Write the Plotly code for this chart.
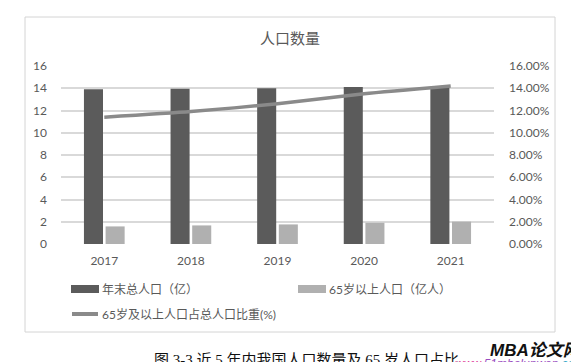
import plotly.graph_objects as go

years = ["2017", "2018", "2019", "2020", "2021"]
total_pop = [13.90, 13.95, 14.00, 14.12, 14.13]
pop_65 = [1.58, 1.67, 1.76, 1.91, 2.01]
ratio_65 = [0.114, 0.119, 0.126, 0.135, 0.142]

name_total = "年末总人口（亿）"
name_65 = "65岁以上人口（亿人）"
name_ratio = "65岁及以上人口占总人口比重(%)"
chart_title = "人口数量"
caption = "图 3-3 近 5 年内我国人口数量及 65 岁人口占比"

W, H = 579, 362
L, R, T, B = 53, 486, 58, 236  # plot area in pixels

def px(x):
    return (x - L) / (R - L)

def py(y):
    return (B - y) / (B - T)

GRAY = "#595959"
FONT = "Lato, Noto Sans CJK SC, sans-serif"

fig = go.Figure()
fig.add_trace(go.Bar(x=years, y=total_pop, name=name_total, marker_color="#5b5b5b", marker_line_width=0))
fig.add_trace(go.Bar(x=years, y=pop_65, name=name_65, marker_color="#b0b0b0", marker_line_width=0))
fig.add_trace(go.Scatter(x=years, y=ratio_65, name=name_ratio, yaxis="y2", mode="lines",
                         line=dict(color="#8a8a8a", width=3.5, shape="spline", smoothing=0.6)))

shapes = []
annotations = []

# chart border
shapes.append(dict(type="rect", xref="paper", yref="paper", x0=px(17), x1=px(547), y0=py(324), y1=py(9),
                   line=dict(color="#d4d4d4", width=1), fillcolor="rgba(0,0,0,0)", layer="below"))

# custom legend
leg_font = dict(family=FONT, size=12, color=GRAY)
legend_items = [
    (name_total, "bar", "#5b5b5b", 63, 281),
    (name_65, "bar", "#b0b0b0", 290, 281),
    (name_ratio, "line", "#8a8a8a", 63, 306),
]
for text, kind, color, x0, yc in legend_items:
    if kind == "bar":
        shapes.append(dict(type="rect", xref="paper", yref="paper", x0=px(x0), x1=px(x0 + 28),
                           y0=py(yc + 4), y1=py(yc - 4), fillcolor=color, line=dict(width=0)))
    else:
        shapes.append(dict(type="line", xref="paper", yref="paper", x0=px(x0 + 1), x1=px(x0 + 27),
                           y0=py(yc), y1=py(yc), line=dict(color=color, width=4)))
    annotations.append(dict(text=text, xref="paper", yref="paper", x=px(x0 + 29), y=py(yc),
                            xanchor="left", yanchor="middle", showarrow=False, font=leg_font))

# title
annotations.append(dict(text=chart_title, xref="paper", yref="paper", x=px(282), y=py(30),
                        xanchor="center", yanchor="middle", showarrow=False,
                        font=dict(family=FONT, size=15, color=GRAY)))
# caption
annotations.append(dict(text=caption, xref="paper", yref="paper", x=px(298), y=py(352),
                        xanchor="center", yanchor="middle", showarrow=False,
                        font=dict(family="Liberation Serif, Noto Sans CJK SC, serif", size=15, color="#111111")))
# watermark
annotations.append(dict(text="<b><i>MBA论文网</i></b>", xref="paper", yref="paper", x=px(577), y=py(342),
                        xanchor="right", yanchor="middle", showarrow=False,
                        font=dict(family="Liberation Sans, Noto Sans CJK SC, sans-serif", size=17, color="#111111")))
annotations.append(dict(text="<i><span style='color:#e0409a'>www.</span><span style='color:#9a4cc0'>51mbalunwen.</span><span style='color:#3aa8c8'>com</span></i>",
                        xref="paper", yref="paper", x=px(578), y=py(356),
                        xanchor="right", yanchor="middle", showarrow=False,
                        font=dict(family="Liberation Sans, sans-serif", size=12, color="#9a4cc0")))

fig.update_layout(
    width=W, height=H,
    margin=dict(l=L, r=W - R, t=T, b=H - B, pad=0),
    paper_bgcolor="white", plot_bgcolor="white",
    showlegend=False,
    barmode="group", bargap=0.5, bargroupgap=0.12,
    font=dict(family=FONT, size=12, color=GRAY),
    xaxis=dict(showgrid=False, showline=False, zeroline=False, ticks="", ticklabelstandoff=8,
               tickfont=dict(size=12, color=GRAY)),
    yaxis=dict(range=[0, 16], dtick=2, showgrid=True, gridcolor="#d9d9d9", gridwidth=2,
               zeroline=False, showline=False, ticks="", ticklabelstandoff=13,
               tickfont=dict(size=12, color=GRAY)),
    yaxis2=dict(range=[0, 0.16], dtick=0.02, tickformat=".2%", overlaying="y", side="right",
                showgrid=False, zeroline=False, showline=False, ticks="", ticklabelstandoff=14,
                tickfont=dict(size=12, color=GRAY)),
    shapes=shapes, annotations=annotations,
)

fig.write_html("out.html")
